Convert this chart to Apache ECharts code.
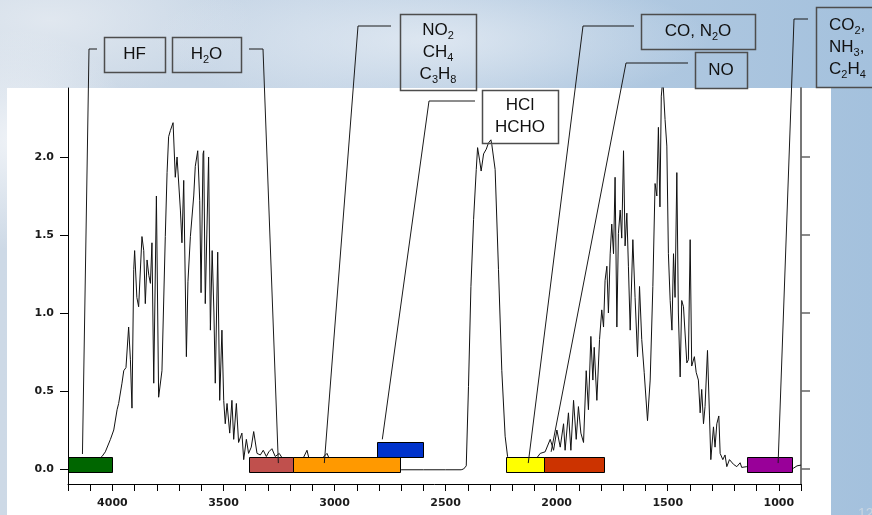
<!DOCTYPE html>
<html><head><meta charset="utf-8">
<script src="https://cdn.jsdelivr.net/npm/echarts@6/dist/echarts.min.js"></script>
<style>
html,body{margin:0;padding:0;}
body{width:872px;height:515px;overflow:hidden;position:relative;
background:
 radial-gradient(120px 110px at 15px 140px, rgba(245,247,250,0.85), rgba(245,247,250,0)),
 radial-gradient(280px 70px at 430px 40px, rgba(232,238,245,0.75), rgba(232,238,245,0)),
 radial-gradient(200px 80px at 50px 20px, rgba(228,234,241,0.85), rgba(228,234,241,0)),
 linear-gradient(90deg, #cdd9e6 0%, #c5d5e6 35%, #b3cae1 65%, #a4c1dd 100%);}
#panel{position:absolute;left:7px;top:88px;width:824px;height:427px;background:#fff;}
#chart{position:absolute;left:0;top:0;width:872px;height:515px;}
</style></head><body>
<div id="panel"></div><div id="chart"></div>
<script>
// Spectrum (wavenumber cm-1, absorbance)
const wavenumbers = [4200,4150,4100,4070,4047,4032,4009,3994,3979,3972,3957,3949,3939,3927,3919,3912,3904,3900,3890,3882,3867,3859,3852,3844,3836,3829,3822,3814,3802,3792,3777,3762,3754,3747,3739,3727,3717,3709,3694,3687,3679,3667,3660,3649,3634,3627,3616,3607,3601,3592,3589,3582,3575,3567,3559,3551,3543,3537,3526,3517,3507,3499,3492,3484,3472,3462,3454,3442,3432,3417,3409,3397,3387,3375,3364,3349,3334,3321,3307,3296,3282,3267,3249,3231,3208,3186,3163,3141,3124,3114,3096,3073,3055,3034,3019,2997,2952,2884,2800,2700,2600,2500,2430,2419,2407,2397,2386,2374,2362,2356,2347,2340,2329,2317,2307,2296,2292,2277,2262,2247,2232,2221,2209,2164,2119,2090,2074,2052,2029,2014,1999,1984,1969,1962,1947,1936,1924,1912,1902,1891,1879,1867,1857,1846,1837,1831,1819,1807,1797,1789,1782,1774,1767,1759,1752,1744,1737,1729,1722,1714,1707,1699,1692,1684,1677,1669,1657,1647,1636,1627,1617,1606,1591,1579,1567,1557,1549,1542,1535,1529,1522,1516,1512,1504,1497,1489,1481,1474,1467,1459,1452,1444,1437,1429,1414,1407,1399,1392,1380,1372,1362,1354,1347,1339,1332,1321,1312,1306,1294,1287,1279,1270,1264,1252,1242,1234,1222,1204,1189,1174,1167,1144,1084,994,934,918,900];
const absorbance = [0.02,0.03,0.04,0.05,0.08,0.11,0.19,0.25,0.38,0.42,0.55,0.63,0.65,0.91,0.70,0.39,1.28,1.40,1.10,1.04,1.49,1.40,1.06,1.34,1.24,1.19,1.45,0.55,1.75,0.46,0.63,1.49,1.90,2.13,2.17,2.22,1.87,2.00,1.66,1.45,1.85,0.72,1.20,1.49,1.75,1.94,2.04,1.72,1.13,2.02,2.04,1.06,1.50,2.00,0.89,1.40,1.00,0.55,1.39,0.44,0.89,0.44,0.29,0.42,0.23,0.44,0.19,0.42,0.17,0.23,0.06,0.19,0.10,0.14,0.24,0.10,0.09,0.12,0.08,0.11,0.13,0.08,0.10,0.06,0.07,0.05,0.06,0.07,0.12,0.06,0.07,0.05,0.07,0.10,0.05,0.03,0.02,0.01,0.0,-0.005,-0.005,-0.005,-0.005,0.0,0.02,0.53,1.17,1.60,1.92,2.06,1.98,1.91,2.02,2.05,2.09,2.11,2.08,1.92,1.28,0.63,0.21,0.08,0.04,0.03,0.05,0.07,0.10,0.11,0.19,0.12,0.25,0.14,0.29,0.12,0.36,0.12,0.44,0.19,0.40,0.23,0.17,0.63,0.38,0.85,0.57,0.78,0.44,0.83,1.02,0.91,1.21,1.30,1.00,1.38,1.57,1.38,1.87,0.91,1.51,1.66,1.48,2.04,1.43,1.64,1.30,0.89,1.47,1.10,0.72,1.17,0.83,0.62,0.31,0.57,1.17,1.83,1.75,2.19,1.68,2.39,2.50,2.50,2.24,2.07,1.38,1.08,0.89,1.38,1.10,1.90,1.00,0.59,1.08,1.04,0.68,0.70,1.47,0.66,0.72,0.62,0.57,0.36,0.51,0.29,0.40,0.76,0.34,0.06,0.27,0.14,0.29,0.34,0.10,0.06,0.09,0.015,0.06,0.03,0.015,0.04,0.01,0.015,0.0,0.0,0.005,0.02,0.025];

// Gas bands (wavenumber ranges)
const bandFrom = [4200,3385,3185,2810,2229,2059,1141];
const bandTo   = [4000,3185,2705,2602,2059,1788,937];
const bandLow  = [-0.02,-0.02,-0.02,0.077,-0.02,-0.02,-0.02];
const bandHigh = [0.077,0.077,0.077,0.173,0.077,0.077,0.077];

// Leader targets (data space)
const leaderWn  = [4135,3253,3046,2785,2128,2025,1003];
const leaderVal = [0.096,0.038,0.038,0.19,0.038,0.11,0.038];

// Axis ticks
const yTickValues = [0,0.5,1.0,1.5,2.0];
const xLabelStep = 500;

// ---- styles / layout ----
const bandColors = ['#006600','#c0504d','#ff9900','#0033cc','#ffff00','#cc3300','#990099'];
const leaderStart  = [[97,49],[249,49],[391,26],[475,101],[634,26],[688,63],[808,19]];
const leaderCorner = [[89,49],[263,49],[358,26],[429,101],[583,26],[626,63],[794,19]];
const labelBoxes = [
  {box:[104,37,61,35], text:'HF', x:134.5, y:54.5, align:'center'},
  {box:[172,37,69,35], text:'H{s|2}O', x:206.5, y:54.5, align:'center'},
  {box:[400,14,76,76], text:'NO{s|2}\nCH{s|4}\nC{s|3}H{s|8}', x:438, y:52, align:'center'},
  {box:[482,90,76,53], text:'HCl\nHCHO', x:520, y:116.5, align:'center'},
  {box:[641,14,114,35], text:'CO, N{s|2}O', x:698, y:31.5, align:'center'},
  {box:[695,52,52,36], text:'NO', x:721, y:70, align:'center'},
  {box:[816,7,80,80], text:'CO{s|2},\nNH{s|3},\nC{s|2}H{s|4}', x:829, y:47, align:'left'}
];

const FONT = '"Liberation Sans", Arial, sans-serif';
const graphics = [];
labelBoxes.forEach(l => {
  graphics.push({type:'rect', z:20, shape:{x:l.box[0]+0.5,y:l.box[1]+0.5,width:l.box[2],height:l.box[3]},
    style:{fill:'rgba(0,0,0,0)', stroke:'#4d4d4d', lineWidth:1.5}});
  graphics.push({type:'text', z:21, x:l.x, y:l.y, style:{
    text:l.text, fontSize:17, fontFamily:FONT, fill:'#111', lineHeight:22,
    align:l.align, verticalAlign:'middle', textAlign:l.align, textVerticalAlign:'middle',
    rich:{s:{fontSize:11, fontFamily:FONT, lineHeight:13, verticalAlign:'bottom', fill:'#111'}}
  }});
});
graphics.push({type:'text', z:21, x:858, y:507, style:{text:'12', fontSize:14, fontFamily:FONT, fill:'#c9d5e1'}});

const chart = echarts.init(document.getElementById('chart'), null, {renderer:'canvas'});
const axisFont = {fontFamily:'"DejaVu Sans", Verdana, sans-serif', fontWeight:'bold', fontSize:11, color:'#1a1a1a'};
chart.setOption({
  animation:false,
  backgroundColor:'transparent',
  grid:{left:68, right:71, top:88, bottom:31},
  xAxis:{type:'value', inverse:true, min:900, max:4200, interval:100,
    axisLine:{show:true, onZero:false, lineStyle:{color:'#000', width:1}},
    axisTick:{show:true, length:7, lineStyle:{color:'#000'}},
    axisLabel:Object.assign({margin:14, formatter:v => (v % xLabelStep === 0 ? String(v) : '')}, axisFont),
    splitLine:{show:false}},
  yAxis:[
    {type:'value', min:-0.0962, max:2.4423, position:'left',
      axisLine:{show:true, onZero:false, lineStyle:{color:'#000', width:1}},
      axisTick:{show:true, length:8, customValues:yTickValues, lineStyle:{color:'#000'}},
      axisLabel:Object.assign({margin:14, customValues:yTickValues, formatter:v => v.toFixed(1)}, axisFont),
      splitLine:{show:false}},
    {type:'value', min:-0.0962, max:2.4423, position:'right',
      axisLine:{show:true, onZero:false, lineStyle:{color:'#777', width:2}},
      axisTick:{show:true, length:9, customValues:yTickValues, lineStyle:{color:'#666', width:1.5}},
      axisLabel:{show:false},
      splitLine:{show:false}}
  ],
  graphic:{elements:graphics},
  series:[
    {type:'line', xAxisIndex:0, yAxisIndex:0, showSymbol:false, symbol:'none', clip:true, z:2,
      lineStyle:{color:'#111', width:1},
      data:wavenumbers.map((w,i)=>[w, absorbance[i]])},
    {type:'custom', xAxisIndex:0, yAxisIndex:0, z:3,
      data:bandFrom.map((f,i)=>[f, bandTo[i], bandLow[i], bandHigh[i], i]),
      encode:{x:[0,1], y:[2,3]},
      renderItem:function(params, api){
        const a = api.coord([api.value(0), api.value(3)]);
        const b = api.coord([api.value(1), api.value(2)]);
        const i = api.value(4);
        return {type:'rect', shape:{x:Math.round(Math.min(a[0],b[0]))+0.5, y:Math.round(Math.min(a[1],b[1]))+0.5,
          width:Math.round(Math.abs(b[0]-a[0])), height:Math.round(Math.abs(b[1]-a[1]))},
          style:{fill:bandColors[i], stroke:'#000', lineWidth:1}};
      }},
    {type:'custom', xAxisIndex:0, yAxisIndex:0, z:4,
      data:leaderWn.map((w,i)=>[w, leaderVal[i], i]),
      encode:{x:0, y:1},
      renderItem:function(params, api){
        const p = api.coord([api.value(0), api.value(1)]);
        const i = api.value(2);
        return {type:'polyline', shape:{points:[leaderStart[i], leaderCorner[i], p]},
          style:{stroke:'#1a1a1a', lineWidth:1, fill:null}};
      }}
  ]
});
</script></body></html>
